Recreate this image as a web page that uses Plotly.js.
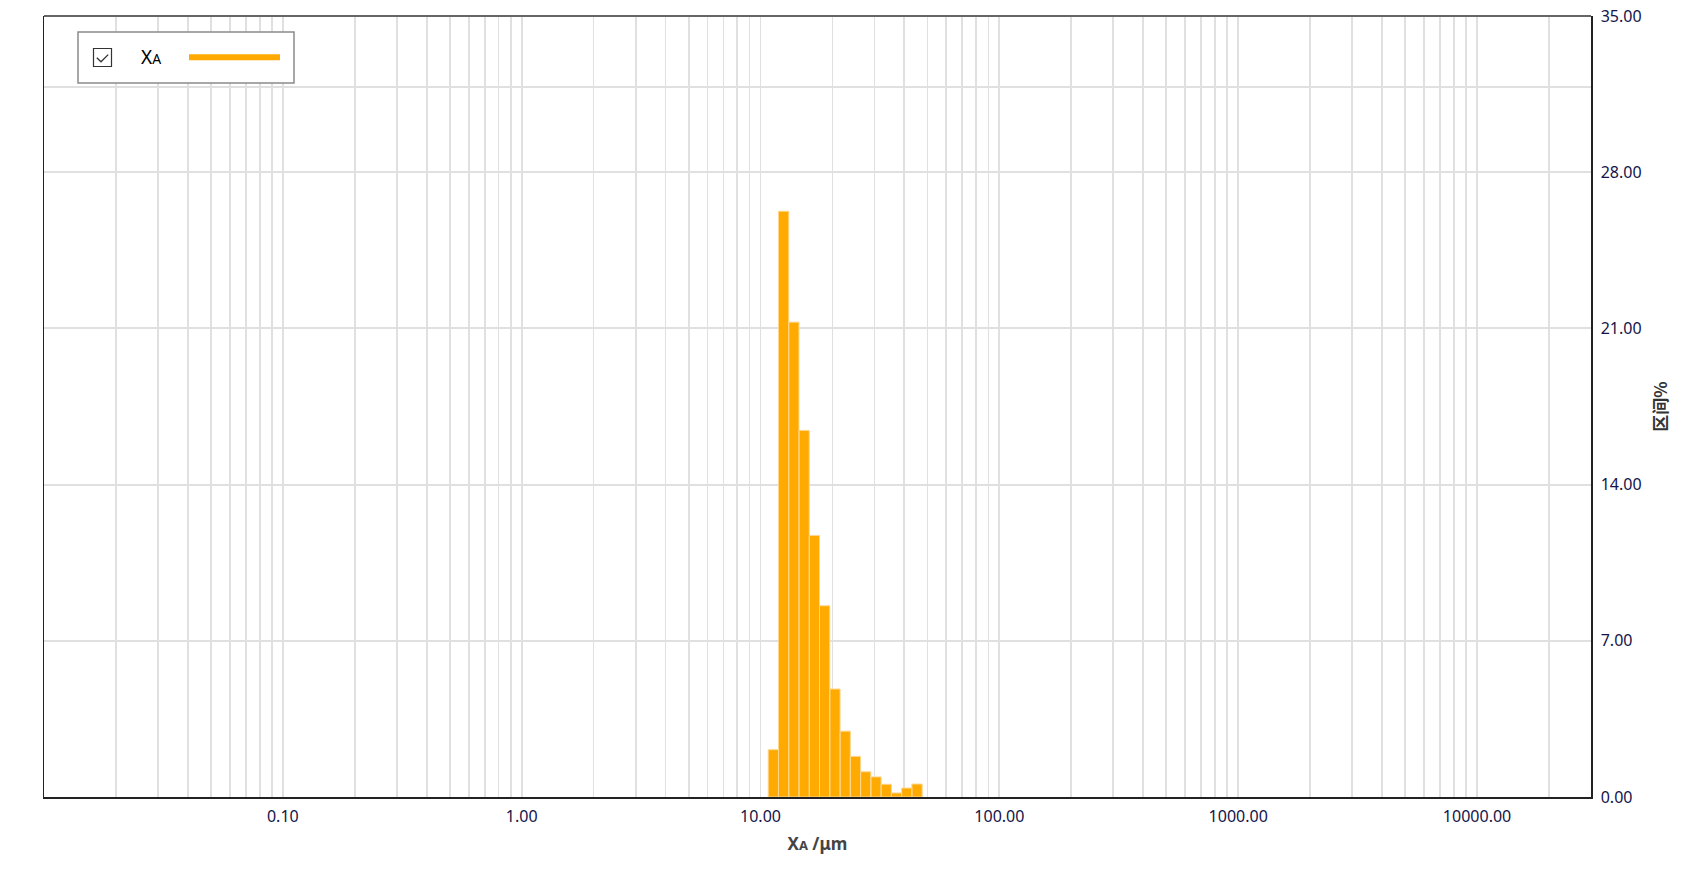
<!DOCTYPE html>
<html>
<head>
<meta charset="utf-8">
<script src="https://cdn.plot.ly/plotly-3.0.1.min.js"></script>
<style>html,body{margin:0;padding:0;background:#fff;}#chart{width:1687px;height:869px;}</style>
</head>
<body>
<div id="chart"></div>
<script>
// Bin edges (µm) and interval percentages
const binEdges = [10.77, 11.89, 13.13, 14.49, 16.00, 17.66, 19.50, 21.53, 23.77, 26.24, 28.97, 31.98, 35.31, 38.98, 43.03, 47.51];
const intervalPct = [2.12, 26.25, 21.28, 16.43, 11.72, 8.57, 4.84, 2.95, 1.82, 1.13, 0.90, 0.57, 0.18, 0.40, 0.58];
const xTickVals = [0.1, 1, 10, 100, 1000, 10000];
const xTickText = ['0.10', '1.00', '10.00', '100.00', '1000.00', '10000.00'];
const yTickVals = [0, 7, 14, 21, 28, 35];
const yExtraGrid = [31.82];
const seriesName = 'X<span style="font-size:14px">A</span>';

// Build bar polygons from the data arrays
const bx = [], by = [];
for (let i = 0; i < intervalPct.length; i++) {
  const l = binEdges[i], r = binEdges[i + 1], v = intervalPct[i];
  bx.push(l, l, r, r, l, null);
  by.push(0, v, v, 0, 0, null);
}

// minor log grid (2..9 per decade)
const minorX = [];
for (let e = -2; e <= 4; e++) {
  for (let d = 2; d <= 9; d++) {
    const v = d * Math.pow(10, e);
    if (v < 30000) minorX.push(v);
  }
}

const fontFam = '"Noto Sans", "Open Sans", sans-serif';
const tickColor = '#14144a';
const gridColor = '#E0E0E0';

const trace = {
  type: 'scatter', mode: 'lines', x: bx, y: by,
  fill: 'toself', fillcolor: '#FFAA00',
  line: {color: 'rgba(255,214,140,1)', width: 1},
  hoverinfo: 'skip', showlegend: false, connectgaps: false
};

const layout = {
  width: 1687, height: 869,
  margin: {l: 44, r: 96, t: 16, b: 72},
  paper_bgcolor: '#fff', plot_bgcolor: '#fff',
  showlegend: false,
  font: {family: fontFam, size: 16, color: tickColor},
  xaxis: {
    type: 'log', range: [-2, Math.log10(30000)],
    tickmode: 'array', tickvals: xTickVals, ticktext: xTickText,
    ticks: 'outside', ticklen: 4, tickcolor: 'rgba(0,0,0,0)',
    tickfont: {family: fontFam, size: 16, color: tickColor},
    showgrid: true, gridcolor: gridColor, gridwidth: 1.8,
    minor: {tickmode: 'array', tickvals: minorX, showgrid: true, gridcolor: gridColor, gridwidth: 1.8, ticks: ''},
    showline: true, linecolor: '#222', linewidth: 1.5, mirror: false,
    zeroline: false,
    title: {text: '<b>X<span style="font-size:13px">A</span> /μm</b>', font: {family: fontFam, size: 17, color: '#444'}, standoff: 12}
  },
  yaxis: {
    side: 'right', range: [0, 35],
    tickmode: 'array', tickvals: yTickVals, tickformat: '.2f',
    ticks: 'outside', ticklen: 5, tickcolor: 'rgba(0,0,0,0)',
    tickfont: {family: fontFam, size: 16, color: tickColor},
    showgrid: true, gridcolor: gridColor, gridwidth: 1.8,
    minor: {tickmode: 'array', tickvals: yExtraGrid, showgrid: true, gridcolor: gridColor, gridwidth: 1.8, ticks: ''},
    showline: true, linecolor: '#222', linewidth: 1.5, mirror: true,
    zeroline: false,
    title: {text: '<b>区间%</b>', font: {family: '"Noto Sans CJK SC", sans-serif', size: 17, color: '#333'}, standoff: 14}
  },
  shapes: [
    {type: 'line', xref: 'paper', yref: 'paper', x0: 0, x1: 1, y0: 1, y1: 1, line: {color: '#666', width: 2}, layer: 'above'},
    {type: 'rect', xref: 'paper', yref: 'paper', xsizemode: 'pixel', ysizemode: 'pixel', xanchor: 0, yanchor: 1,
     x0: 34, x1: 250, y0: -16, y1: -67, fillcolor: '#fff', line: {color: '#8a8a8a', width: 1.5}, layer: 'above'},
    {type: 'rect', xref: 'paper', yref: 'paper', xsizemode: 'pixel', ysizemode: 'pixel', xanchor: 0, yanchor: 1,
     x0: 49.5, x1: 67.5, y0: -32.5, y1: -50.5, fillcolor: 'rgba(0,0,0,0)', line: {color: '#333', width: 1.2}, layer: 'above'},
    {type: 'path', xref: 'paper', yref: 'paper', xsizemode: 'pixel', ysizemode: 'pixel', xanchor: 0, yanchor: 1,
     path: 'M52.8,-41.8 L57,-45.8 L64.2,-38.6', line: {color: '#333', width: 1.3}, layer: 'above'},
    {type: 'line', xref: 'paper', yref: 'paper', xsizemode: 'pixel', ysizemode: 'pixel', xanchor: 0, yanchor: 1,
     x0: 145, x1: 236, y0: -41.3, y1: -41.3, line: {color: '#FFAA00', width: 6}, layer: 'above'}
  ],
  annotations: [
    {xref: 'paper', yref: 'paper', x: (139 - 44) / 1547, y: (797 - 57) / 781, xanchor: 'left', yanchor: 'middle',
     text: seriesName, showarrow: false, font: {family: fontFam, size: 19, color: '#000'}}
  ]
};

Plotly.newPlot('chart', [trace], layout, {staticPlot: true, displayModeBar: false});
</script>
</body>
</html>
